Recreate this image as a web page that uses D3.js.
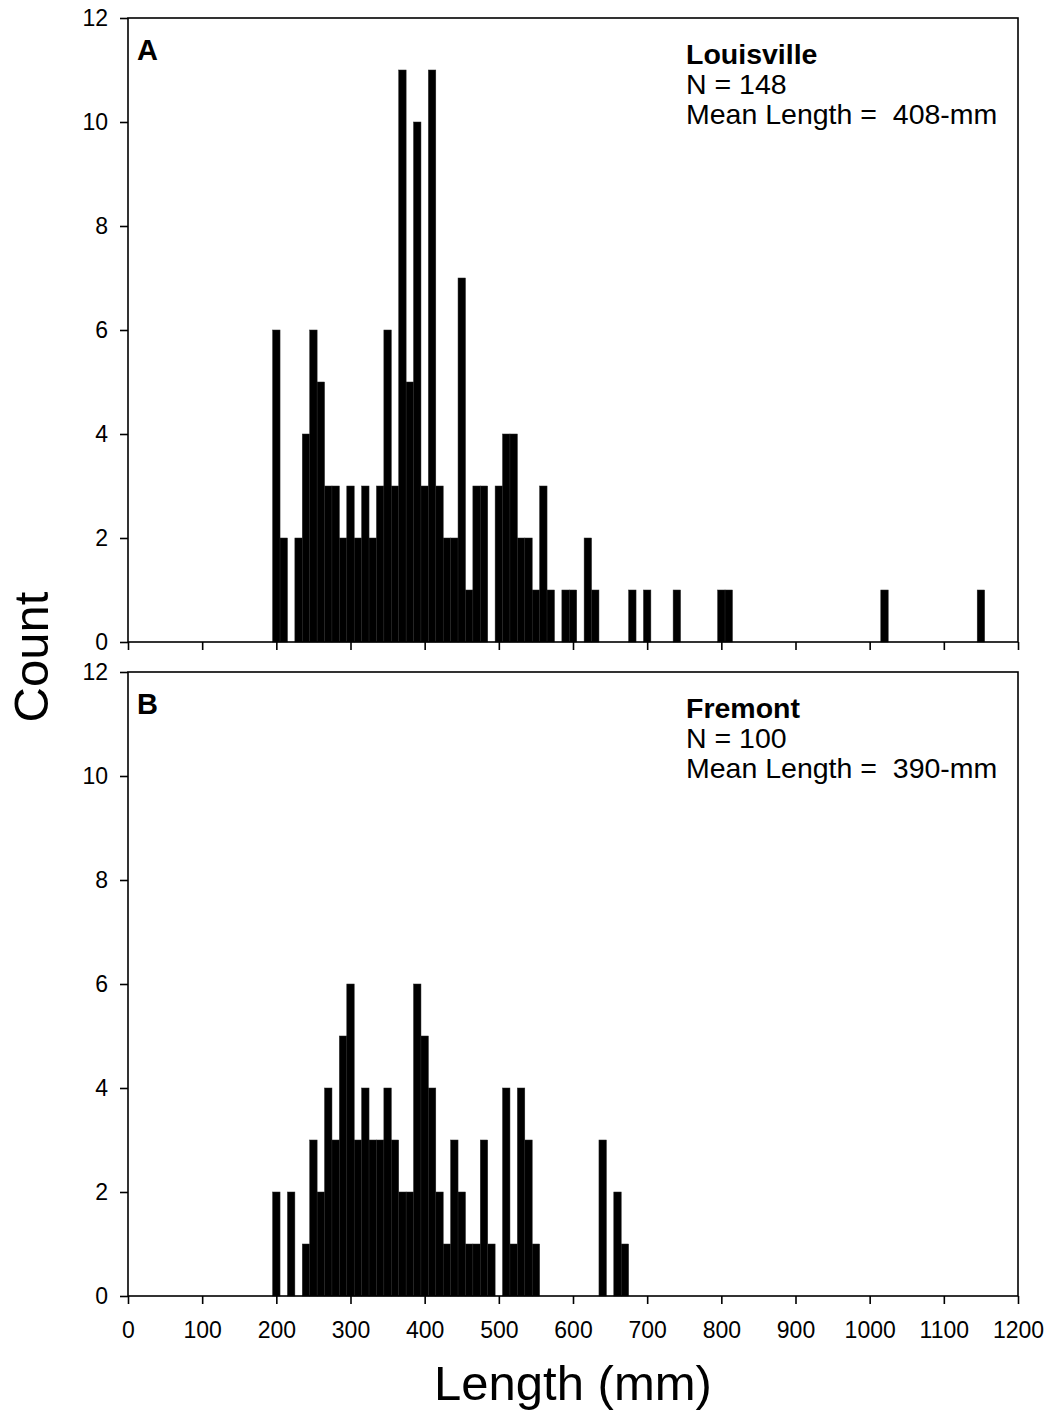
<!DOCTYPE html>
<html>
<head>
<meta charset="utf-8">
<script src="https://cdn.jsdelivr.net/npm/d3@7"></script>
<style>
  body { margin: 0; background: #fff; }
  text { font-family: "Liberation Sans", Arial, sans-serif; }
</style>
</head>
<body>
<div id="chart"></div>
<script>
// bin centres (mm) and counts, 10-mm bins
const louisvilleBins = [200, 210, 220, 230, 240, 250, 260, 270, 280, 290,
  300, 310, 320, 330, 340, 350, 360, 370, 380, 390,
  400, 410, 420, 430, 440, 450, 460, 470, 480, 490,
  500, 510, 520, 530, 540, 550, 560, 570, 580, 590,
  600, 610, 620, 630, 680, 700, 740, 800, 810, 1020, 1150];
const louisvilleCounts = [6, 2, 0, 2, 4, 6, 5, 3, 3, 2,
  3, 2, 3, 2, 3, 6, 3, 11, 5, 10,
  3, 11, 3, 2, 2, 7, 1, 3, 3, 0,
  3, 4, 4, 2, 2, 1, 3, 1, 0, 1,
  1, 0, 2, 1, 1, 1, 1, 1, 1, 1, 1];

const fremontBins = [200, 220, 240, 250, 260, 270, 280, 290, 300, 310,
  320, 330, 340, 350, 360, 370, 380, 390, 400, 410,
  420, 430, 440, 450, 460, 470, 480, 490, 510, 520,
  530, 540, 550, 640, 660, 670];
const fremontCounts = [2, 2, 1, 3, 2, 4, 3, 5, 6, 3,
  4, 3, 3, 4, 3, 2, 2, 6, 5, 4,
  2, 1, 3, 2, 1, 1, 3, 1, 4, 1,
  4, 3, 1, 3, 2, 1];

const xTicks = [0, 100, 200, 300, 400, 500, 600, 700, 800, 900, 1000, 1100, 1200];
const yTicks = [0, 2, 4, 6, 8, 10, 12];

const panels = [
  { letter: 'A', site: 'Louisville', n: 148, mean: 408, bins: louisvilleBins, counts: louisvilleCounts, top: 18, bottom: 642 },
  { letter: 'B', site: 'Fremont', n: 100, mean: 390, bins: fremontBins, counts: fremontCounts, top: 672, bottom: 1296 }
];

const width = 1051;
const height = 1425;
const margin = { left: 128, right: 1018 };
const binWidth = 10;

const svg = d3.select('#chart')
  .append('svg')
  .attr('width', width)
  .attr('height', height)
  .attr('viewBox', [0, 0, width, height]);

svg.append('rect').attr('width', width).attr('height', height).attr('fill', '#fff');

const x = d3.scaleLinear()
  .domain([0, 1200])
  .range([margin.left, margin.right]);

panels.forEach((p, pi) => {
  const y = d3.scaleLinear()
    .domain([0, 12])
    .range([p.bottom, p.top]);

  const data = p.bins.map((b, i) => ({ bin: b, count: p.counts[i] }));

  svg.append('g')
    .selectAll('rect')
    .data(data.filter(d => d.count > 0))
    .join('rect')
    .attr('x', d => x(d.bin - binWidth / 2))
    .attr('y', d => y(d.count))
    .attr('width', d => x(d.bin + binWidth / 2) - x(d.bin - binWidth / 2))
    .attr('height', d => y(0) - y(d.count))
    .attr('fill', '#000')
    .attr('stroke', '#222')
    .attr('stroke-width', 0.5);

  // frame
  svg.append('rect')
    .attr('x', margin.left)
    .attr('y', p.top)
    .attr('width', margin.right - margin.left)
    .attr('height', p.bottom - p.top)
    .attr('fill', 'none')
    .attr('stroke', '#000')
    .attr('stroke-width', 1.6);

  const yAxis = svg.append('g')
    .attr('transform', `translate(${margin.left},0)`)
    .call(d3.axisLeft(y).tickValues(yTicks).tickSize(8).tickPadding(12).tickFormat(d3.format('d')));
  yAxis.select('.domain').remove();
  yAxis.selectAll('line').attr('stroke-width', 1.6);
  yAxis.selectAll('text').attr('font-size', 23).attr('fill', '#000')
    .style('font-family', '"Liberation Sans", Arial, sans-serif');

  const xAxis = svg.append('g')
    .attr('transform', `translate(0,${p.bottom})`)
    .call(d3.axisBottom(x).tickValues(xTicks).tickSize(8).tickPadding(18).tickFormat(d3.format('d')));
  xAxis.select('.domain').remove();
  xAxis.selectAll('line').attr('stroke-width', 1.6);
  xAxis.selectAll('text').attr('font-size', 23).attr('fill', '#000')
    .style('font-family', '"Liberation Sans", Arial, sans-serif');
  if (pi === 0) xAxis.selectAll('text').remove();

  svg.append('text')
    .attr('x', 137)
    .attr('y', p.top + 42)
    .attr('font-size', 29)
    .attr('font-weight', 'bold')
    .text(p.letter);

  const note = svg.append('text')
    .attr('x', 686)
    .attr('y', p.top + 46)
    .attr('font-size', 28.5);
  note.append('tspan').attr('font-weight', 'bold').text(p.site);
  note.append('tspan').attr('x', 686).attr('dy', 30).text(`N = ${p.n}`);
  note.append('tspan').attr('x', 686).attr('dy', 30)
    .style('white-space', 'pre').text(`Mean Length =  ${p.mean}-mm`);
});

svg.append('text')
  .attr('transform', 'translate(48,657) rotate(-90)')
  .attr('text-anchor', 'middle')
  .attr('font-size', 49)
  .text('Count');

svg.append('text')
  .attr('x', (margin.left + margin.right) / 2)
  .attr('y', 1400)
  .attr('text-anchor', 'middle')
  .attr('font-size', 49)
  .text('Length (mm)');
</script>
</body>
</html>
